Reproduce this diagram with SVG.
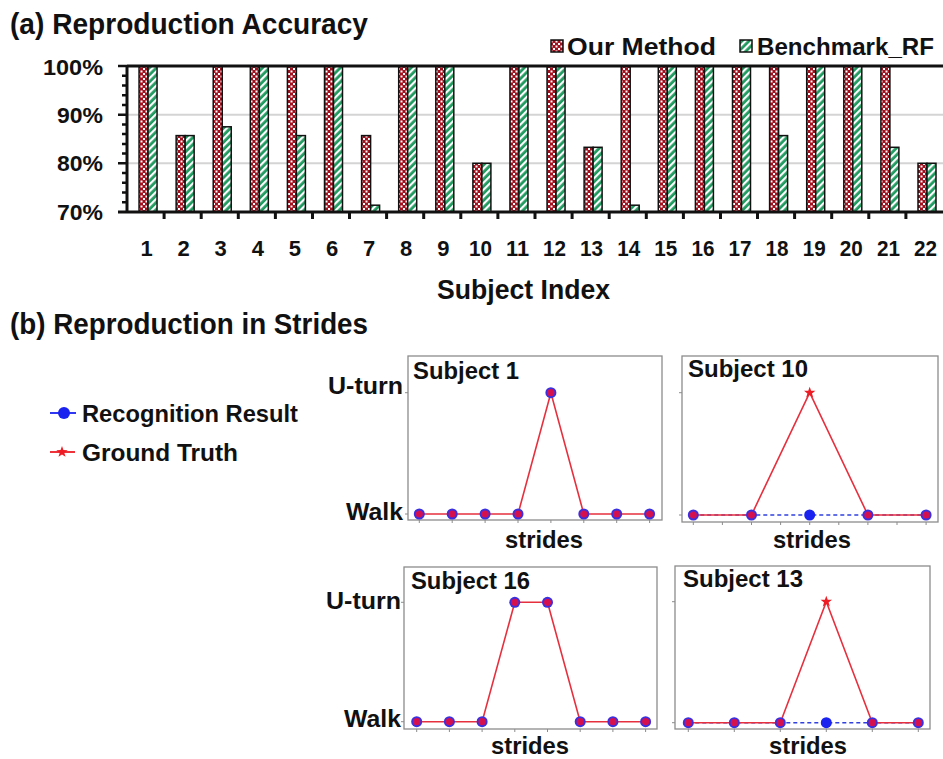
<svg xmlns="http://www.w3.org/2000/svg" width="943" height="759" viewBox="0 0 943 759">
<defs>
  <pattern id="pRed" patternUnits="userSpaceOnUse" width="5" height="5">
    <rect width="5" height="5" fill="#a0101e"/>
    <rect x="0.5" y="0.5" width="2" height="2" fill="#ffffff"/>
    <rect x="3" y="3" width="2" height="2" fill="#ffffff"/>
  </pattern>
  <pattern id="pGreen" patternUnits="userSpaceOnUse" width="5" height="5" patternTransform="rotate(45)">
    <rect width="5" height="5" fill="#1e9a5e"/>
    <rect width="2.2" height="5" fill="#ffffff"/>
  </pattern>
  <path id="star" d="M0,-6 L1.41,-1.94 L5.71,-1.85 L2.28,0.74 L3.53,4.85 L0,2.4 L-3.53,4.85 L-2.28,0.74 L-5.71,-1.85 L-1.41,-1.94 Z"/>
  <g id="dot"><circle r="5.5" fill="#3a30e0"/><circle r="3.6" fill="#d4104e"/></g>
  <circle id="bdot" r="5.5" fill="#1a22f0"/>
</defs>
<style>
  text { font-family: "Liberation Sans", Arial, sans-serif; font-weight: bold; fill: #111; }
  .title { font-size: 29px; }
  .tick { font-size: 22px; }
  .lab { font-size: 24px; }
  .rb { fill: url(#pRed); stroke: #111; stroke-width: 1.5; }
  .gb { fill: url(#pGreen); stroke: #111; stroke-width: 1.5; }
  .axis { stroke: #111; stroke-width: 3; fill: none; }
  .grid { stroke: #d4d4d4; stroke-width: 2; }
  .panel { fill: #fff; stroke: #8c8c8c; stroke-width: 1.3; }
  .red { stroke: #e6303e; stroke-width: 1.6; fill: none; }
  .blue { stroke: #3040e0; stroke-width: 1.6; fill: none; stroke-dasharray: 4 3; }
  .star { fill: #ee1c24; }
  .ptick { stroke: #8c8c8c; stroke-width: 1; }
</style>
<rect width="943" height="759" fill="#fff"/>

<g id="chart-a">
  <text class="title" x="10" y="34" textLength="358" lengthAdjust="spacingAndGlyphs">(a) Reproduction Accuracy</text>
  <g id="legend-a">
    <rect x="551" y="40" width="12" height="12" class="rb"/>
    <text class="lab" x="567" y="55" textLength="149" lengthAdjust="spacingAndGlyphs">Our Method</text>
    <rect x="740" y="40" width="12" height="12" class="gb"/>
    <text class="lab" x="757" y="55" textLength="177" lengthAdjust="spacingAndGlyphs">Benchmark_RF</text>
  </g>
  <line class="grid" x1="127" y1="114.7" x2="943" y2="114.7"/>
  <line class="grid" x1="127" y1="163.3" x2="943" y2="163.3"/>
  <g id="bars">
    <rect class="rb" x="139.05" y="66" width="9" height="146"/><rect class="gb" x="148.05" y="66" width="9" height="146"/>
    <rect class="rb" x="176.14" y="135.6" width="9" height="76.4"/><rect class="gb" x="185.14" y="135.6" width="9" height="76.4"/>
    <rect class="rb" x="213.23" y="66" width="9" height="146"/><rect class="gb" x="222.23" y="126.8" width="9" height="85.2"/>
    <rect class="rb" x="250.32" y="66" width="9" height="146"/><rect class="gb" x="259.32" y="66" width="9" height="146"/>
    <rect class="rb" x="287.41" y="66" width="9" height="146"/><rect class="gb" x="296.41" y="135.6" width="9" height="76.4"/>
    <rect class="rb" x="324.5" y="66" width="9" height="146"/><rect class="gb" x="333.5" y="66" width="9" height="146"/>
    <rect class="rb" x="361.6" y="135.6" width="9" height="76.4"/><rect class="gb" x="370.6" y="205.2" width="9" height="6.8"/>
    <rect class="rb" x="398.7" y="66" width="9" height="146"/><rect class="gb" x="407.7" y="66" width="9" height="146"/>
    <rect class="rb" x="435.8" y="66" width="9" height="146"/><rect class="gb" x="444.8" y="66" width="9" height="146"/>
    <rect class="rb" x="472.9" y="163.3" width="9" height="48.7"/><rect class="gb" x="481.9" y="163.3" width="9" height="48.7"/>
    <rect class="rb" x="509.95" y="66" width="9" height="146"/><rect class="gb" x="518.95" y="66" width="9" height="146"/>
    <rect class="rb" x="547.05" y="66" width="9" height="146"/><rect class="gb" x="556.05" y="66" width="9" height="146"/>
    <rect class="rb" x="584.1" y="147.3" width="9" height="64.7"/><rect class="gb" x="593.1" y="147.3" width="9" height="64.7"/>
    <rect class="rb" x="621.2" y="66" width="9" height="146"/><rect class="gb" x="630.2" y="205.2" width="9" height="6.8"/>
    <rect class="rb" x="658.3" y="66" width="9" height="146"/><rect class="gb" x="667.3" y="66" width="9" height="146"/>
    <rect class="rb" x="695.4" y="66" width="9" height="146"/><rect class="gb" x="704.4" y="66" width="9" height="146"/>
    <rect class="rb" x="732.5" y="66" width="9" height="146"/><rect class="gb" x="741.5" y="66" width="9" height="146"/>
    <rect class="rb" x="769.6" y="66" width="9" height="146"/><rect class="gb" x="778.6" y="135.6" width="9" height="76.4"/>
    <rect class="rb" x="806.7" y="66" width="9" height="146"/><rect class="gb" x="815.7" y="66" width="9" height="146"/>
    <rect class="rb" x="843.8" y="66" width="9" height="146"/><rect class="gb" x="852.8" y="66" width="9" height="146"/>
    <rect class="rb" x="880.9" y="66" width="9" height="146"/><rect class="gb" x="889.9" y="147.3" width="9" height="64.7"/>
    <rect class="rb" x="918" y="163.3" width="9" height="48.7"/><rect class="gb" x="927" y="163.3" width="9" height="48.7"/>
  </g>
  <g id="axes-a">
    <line class="axis" x1="127" y1="66" x2="943" y2="66"/>
    <line class="axis" x1="118" y1="212" x2="943" y2="212"/>
    <line class="axis" x1="127" y1="65" x2="127" y2="213"/>
    <path stroke="#111" stroke-width="2.5" fill="none" d="M118,66H127M118,114.7H127M118,163.3H127M122,75.7H127M122,85.5H127M122,95.2H127M122,104.9H127M122,124.4H127M122,134.1H127M122,143.9H127M122,153.6H127M122,173.1H127M122,182.8H127M122,192.5H127M122,202.3H127"/>
    <path stroke="#111" stroke-width="3" fill="none" d="M164.1,212V219M201.2,212V219M238.3,212V219M275.4,212V219M312.5,212V219M349.5,212V219M386.6,212V219M423.7,212V219M460.8,212V219M497.9,212V219M535,212V219M572.1,212V219M609.2,212V219M646.3,212V219M683.4,212V219M720.5,212V219M757.5,212V219M794.6,212V219M831.7,212V219M868.8,212V219M905.9,212V219"/>
    <g class="tick">
      <text x="43" y="75" textLength="60" lengthAdjust="spacingAndGlyphs">100%</text>
      <text x="57" y="123" textLength="46" lengthAdjust="spacingAndGlyphs">90%</text>
      <text x="57" y="171" textLength="46" lengthAdjust="spacingAndGlyphs">80%</text>
      <text x="57" y="220" textLength="46" lengthAdjust="spacingAndGlyphs">70%</text>
    </g>
    <g class="tick" text-anchor="middle">
      <text x="146.5" y="256">1</text><text x="183.6" y="256">2</text><text x="220.7" y="256">3</text><text x="257.8" y="256">4</text>
      <text x="294.9" y="256">5</text><text x="332" y="256">6</text><text x="369.1" y="256">7</text><text x="406.2" y="256">8</text>
      <text x="443.3" y="256">9</text>
      <text x="480.4" y="256" textLength="23" lengthAdjust="spacingAndGlyphs">10</text><text x="517.5" y="256" textLength="23" lengthAdjust="spacingAndGlyphs">11</text><text x="554.6" y="256" textLength="23" lengthAdjust="spacingAndGlyphs">12</text>
      <text x="591.6" y="256" textLength="23" lengthAdjust="spacingAndGlyphs">13</text><text x="628.7" y="256" textLength="23" lengthAdjust="spacingAndGlyphs">14</text><text x="665.8" y="256" textLength="23" lengthAdjust="spacingAndGlyphs">15</text><text x="702.9" y="256" textLength="23" lengthAdjust="spacingAndGlyphs">16</text>
      <text x="740" y="256" textLength="23" lengthAdjust="spacingAndGlyphs">17</text><text x="777.1" y="256" textLength="23" lengthAdjust="spacingAndGlyphs">18</text><text x="814.2" y="256" textLength="23" lengthAdjust="spacingAndGlyphs">19</text><text x="851.3" y="256" textLength="23" lengthAdjust="spacingAndGlyphs">20</text>
      <text x="888.4" y="256" textLength="23" lengthAdjust="spacingAndGlyphs">21</text><text x="925.5" y="256" textLength="23" lengthAdjust="spacingAndGlyphs">22</text>
    </g>
    <text x="437" y="299" font-size="27" textLength="173" lengthAdjust="spacingAndGlyphs">Subject Index</text>
  </g>
</g>

<g id="chart-b">
  <text class="title" x="10" y="334" textLength="358" lengthAdjust="spacingAndGlyphs">(b) Reproduction in Strides</text>
  <g id="legend-b">
    <line x1="50" y1="413" x2="76" y2="413" stroke="#1a22f0" stroke-width="1.8"/>
    <circle cx="64" cy="413" r="6" fill="#1a22f0"/>
    <text class="lab" x="82" y="422" textLength="216" lengthAdjust="spacingAndGlyphs">Recognition Result</text>
    <line x1="50" y1="452" x2="75" y2="452" stroke="#ee1c24" stroke-width="1.8"/>
    <use href="#star" x="62" y="452" class="star"/>
    <text class="lab" x="82" y="461" textLength="156" lengthAdjust="spacingAndGlyphs">Ground Truth</text>
  </g>

  <g id="panel-subject-1">
    <rect class="panel" x="408" y="356" width="254" height="164"/>
    <path class="ptick" d="M405,392.7H408M405,514H408M419.3,520V523M452.2,520V523M485.1,520V523M518,520V523M550.9,520V523M583.8,520V523M616.7,520V523M649.6,520V523"/>
    <text class="lab" x="413" y="379" textLength="106" lengthAdjust="spacingAndGlyphs">Subject 1</text>
    <text class="lab" x="403" y="394" text-anchor="end" textLength="75" lengthAdjust="spacingAndGlyphs">U-turn</text>
    <text class="lab" x="403" y="520" text-anchor="end" textLength="57" lengthAdjust="spacingAndGlyphs">Walk</text>
    <text class="lab" x="505" y="548" textLength="78" lengthAdjust="spacingAndGlyphs">strides</text>
    <polyline class="red" points="419.3,514 452.2,514 485.1,514 518,514 550.9,392.7 583.8,514 616.7,514 649.6,514"/>
    <use href="#dot" x="419.3" y="514"/><use href="#dot" x="452.2" y="514"/><use href="#dot" x="485.1" y="514"/><use href="#dot" x="518" y="514"/>
    <use href="#dot" x="550.9" y="392.7"/><use href="#dot" x="583.8" y="514"/><use href="#dot" x="616.7" y="514"/><use href="#dot" x="649.6" y="514"/>
  </g>

  <g id="panel-subject-10">
    <rect class="panel" x="682" y="356" width="256" height="166"/>
    <path class="ptick" d="M679,392.7H682M679,515H682M693.3,522V525M722.4,522V525M751.5,522V525M780.6,522V525M809.7,522V525M838.8,522V525M867.9,522V525M897,522V525M926.1,522V525"/>
    <text class="lab" x="688" y="377" textLength="120" lengthAdjust="spacingAndGlyphs">Subject 10</text>
    <text class="lab" x="773" y="548" textLength="78" lengthAdjust="spacingAndGlyphs">strides</text>
    <line class="blue" x1="693.3" y1="515" x2="926.1" y2="515"/>
    <polyline class="red" points="693.3,515 751.5,515 809.7,392.7 867.9,515 926.1,515"/>
    <use href="#dot" x="693.3" y="515"/><use href="#dot" x="751.5" y="515"/><use href="#bdot" x="809.7" y="515"/>
    <use href="#dot" x="867.9" y="515"/><use href="#dot" x="926.1" y="515"/>
    <use href="#star" x="809.7" y="392.7" class="star"/>
  </g>

  <g id="panel-subject-16">
    <rect class="panel" x="404" y="567" width="253" height="162"/>
    <path class="ptick" d="M401,602.3H404M401,721.7H404M416.7,729V732M449.4,729V732M482.1,729V732M514.8,729V732M547.5,729V732M580.2,729V732M612.9,729V732M645.6,729V732"/>
    <text class="lab" x="411" y="589" textLength="119" lengthAdjust="spacingAndGlyphs">Subject 16</text>
    <text class="lab" x="401" y="609" text-anchor="end" textLength="75" lengthAdjust="spacingAndGlyphs">U-turn</text>
    <text class="lab" x="401" y="727" text-anchor="end" textLength="57" lengthAdjust="spacingAndGlyphs">Walk</text>
    <text class="lab" x="491" y="754" textLength="78" lengthAdjust="spacingAndGlyphs">strides</text>
    <polyline class="red" points="416.7,721.7 449.4,721.7 482.1,721.7 514.8,602.3 547.5,602.3 580.2,721.7 612.9,721.7 645.6,721.7"/>
    <use href="#dot" x="416.7" y="721.7"/><use href="#dot" x="449.4" y="721.7"/><use href="#dot" x="482.1" y="721.7"/><use href="#dot" x="514.8" y="602.3"/>
    <use href="#dot" x="547.5" y="602.3"/><use href="#dot" x="580.2" y="721.7"/><use href="#dot" x="612.9" y="721.7"/><use href="#dot" x="645.6" y="721.7"/>
  </g>

  <g id="panel-subject-13">
    <rect class="panel" x="675" y="566" width="255" height="163"/>
    <path class="ptick" d="M672,601.7H675M672,722.7H675M688.3,729V732M734.3,729V732M780.3,729V732M826.3,729V732M872.3,729V732M918.3,729V732"/>
    <text class="lab" x="683" y="587" textLength="120" lengthAdjust="spacingAndGlyphs">Subject 13</text>
    <text class="lab" x="769" y="754" textLength="78" lengthAdjust="spacingAndGlyphs">strides</text>
    <line class="blue" x1="688.3" y1="722.7" x2="918.3" y2="722.7"/>
    <polyline class="red" points="688.3,722.7 734.3,722.7 780.3,722.7 826.3,601.7 872.3,722.7 918.3,722.7"/>
    <use href="#dot" x="688.3" y="722.7"/><use href="#dot" x="734.3" y="722.7"/><use href="#dot" x="780.3" y="722.7"/>
    <use href="#bdot" x="826.3" y="722.7"/><use href="#dot" x="872.3" y="722.7"/><use href="#dot" x="918.3" y="722.7"/>
    <use href="#star" x="826.3" y="601.7" class="star"/>
  </g>
</g>
</svg>
